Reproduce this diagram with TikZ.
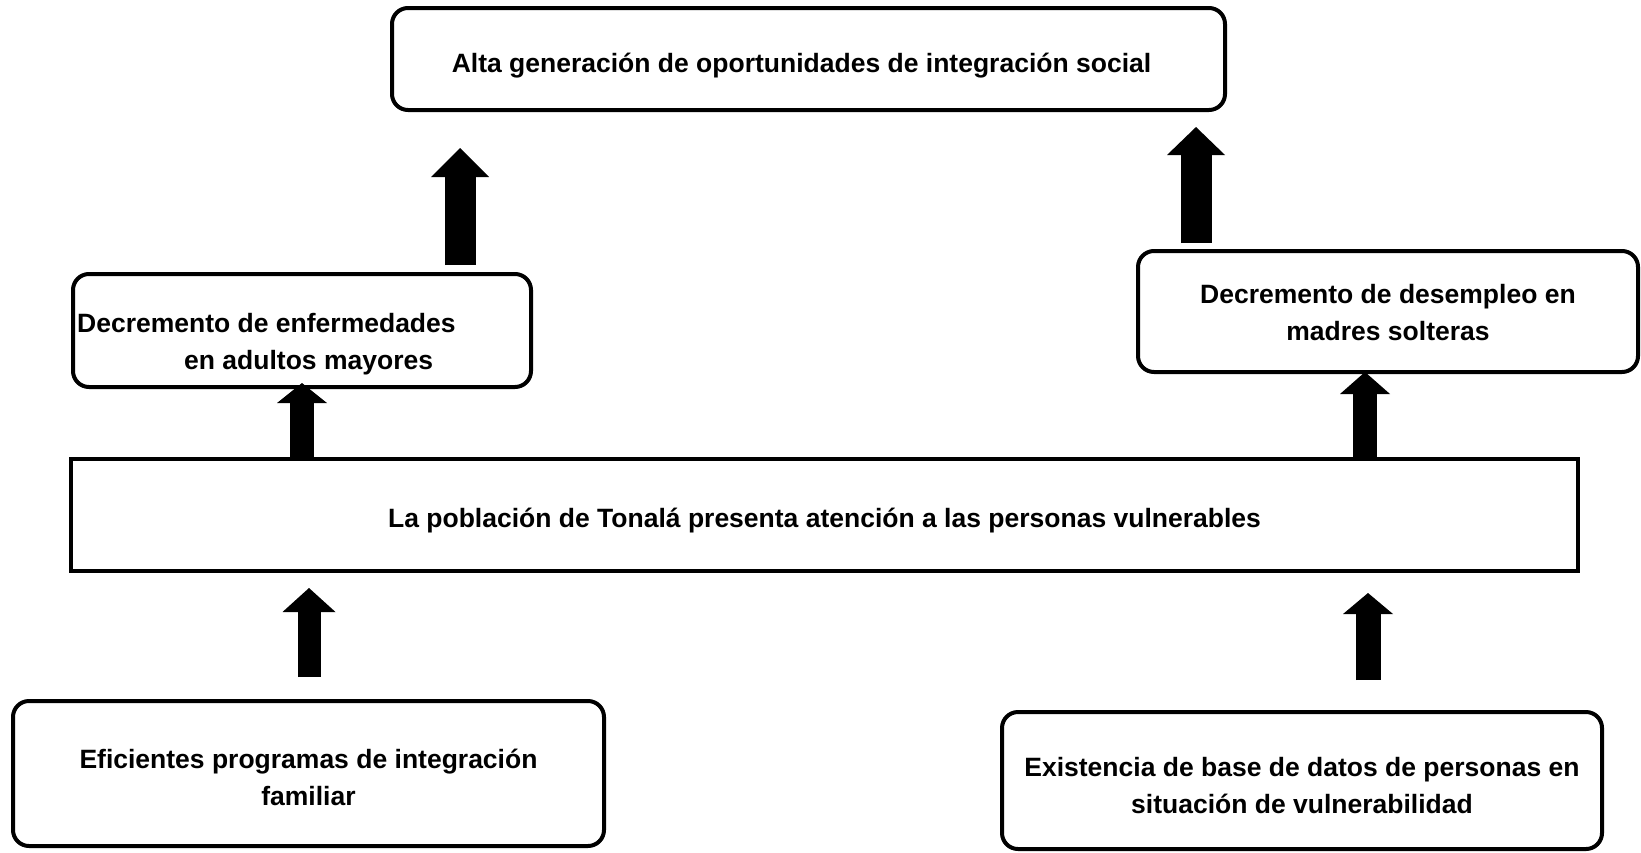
\documentclass[tikz,border=0pt]{standalone}
\usepackage{fontspec}
\setmainfont{Liberation Sans}
\usetikzlibrary{arrows.meta}
\newcommand{\lowerby}[2]{\raisebox{-#1}[\height][\depth]{#2}}
\newcommand{\twolines}[3]{\lowerby{#1}{\begin{tabular}{@{}c@{}}#2\\#3\end{tabular}}}
\tikzset{
  txt/.style={font=\bfseries\fontsize{26.5}{37}\selectfont, align=center},
  boxr/.style={draw, line width=4pt, rounded corners=16pt, fill=white, inner sep=0pt, outer sep=0pt, txt},
  boxs/.style={draw, line width=4pt, fill=white, inner sep=0pt, outer sep=0pt, txt},
  blk/.style n args={3}{line width=#1, -{Triangle[width=#2 0 0, length=#3 0 0, line width=0pt 0 0]}},
}
\begin{document}
\begin{tikzpicture}[x=1pt,y=-1pt]
\useasboundingbox (0,0) rectangle (1641,852);
% boxes
\node[boxr, minimum width=833pt, minimum height=102pt] (top) at (808.5,59)
  {\lowerby{7pt}{Alta generación de oportunidades de integración social}\hspace*{14pt}};
\node[boxr, minimum width=458pt, minimum height=113pt] (enf) at (302,330.5) {};
\node[txt, align=left, anchor=west, inner sep=0pt] (enft) at (77,344)
  {Decremento de enfermedades\\\hspace*{107pt}en adultos mayores};
\node[boxr, minimum width=500pt, minimum height=121pt] (dem) at (1388,311.5)
  {\twolines{3pt}{Decremento de desempleo en}{madres solteras}};
\node[boxs, minimum width=1507pt, minimum height=112pt] (ctr) at (824.5,515)
  {\lowerby{6pt}{La población de Tonalá presenta atención a las personas vulnerables}};
\node[boxr, minimum width=591pt, minimum height=145pt] (efi) at (308.5,773.5)
  {\twolines{6pt}{Eficientes programas de integración}{familiar}};
\node[boxr, minimum width=600pt, minimum height=137pt] (exi) at (1302,780.5)
  {\twolines{7pt}{Existencia de base de datos de personas en}{situación de vulnerabilidad}};
% arrow columns
\coordinate (xa) at (460,0);
\coordinate (xb) at (1196,0);
\coordinate (xc) at (302,0);
\coordinate (xd) at (1365,0);
\coordinate (xe) at (309,0);
\coordinate (xf) at (1368,0);
% arrows
\draw[blk={31pt}{58pt}{29pt}, shorten <=9pt, shorten >=38pt] (enf.north -| xa) -- (top.south -| xa);
\draw[blk={31pt}{58pt}{28pt}, shorten <=8pt, shorten >=17pt] (dem.north -| xb) -- (top.south -| xb);
\draw[blk={24pt}{50pt}{20pt}, shorten >=-4pt] (ctr.north -| xc) -- (enf.south -| xc);
\draw[blk={24pt}{50pt}{22pt}] (ctr.north -| xd) -- (dem.south -| xd);
\draw[blk={23pt}{53pt}{24pt}, shorten <=24pt, shorten >=17pt] (efi.north -| xe) -- (ctr.south -| xe);
\draw[blk={25pt}{50pt}{21pt}, shorten <=32pt, shorten >=22pt] (exi.north -| xf) -- (ctr.south -| xf);
\end{tikzpicture}
\end{document}
